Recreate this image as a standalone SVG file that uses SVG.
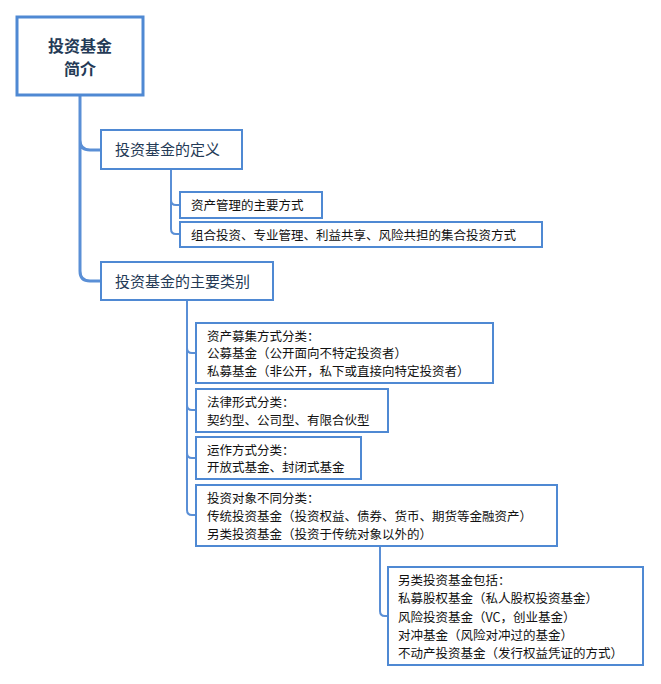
<svg xmlns="http://www.w3.org/2000/svg" width="661" height="684" viewBox="0 0 661 684">
<style>
.b{fill:#fff;stroke:#4f89d3;stroke-width:2}
.c{fill:none;stroke:#5a8fd6;stroke-width:3}
.c2{fill:none;stroke:#5a8fd6;stroke-width:2}
text{font-family:"Noto Sans CJK SC","Liberation Sans",sans-serif}
.t1{font-size:15px;fill:#243a56}
.t2{font-size:12.5px;fill:#111}
</style>
<rect width="661" height="684" fill="#fff"/>
<g id="connectors">
<path class="c" d="M80 95 V140 Q80 150 90 150 H101 M80 140 V271 Q80 281 90 281 H101"/>
<path class="c2" d="M171 169 V200 Q171 205 176 205 H180 M171 200 V229 Q171 234 176 234 H180"/>
<path class="c2" d="M187 300 V348 Q187 353 192 353 H196 M187 348 V405 Q187 410 192 410 H196 M187 405 V453 Q187 458 192 458 H196 M187 453 V510 Q187 515 192 515 H196"/>
<path class="c2" d="M380 546 V611 Q380 616 385 616 H388"/>
</g>
<g id="root"><rect x="17" y="17" width="126" height="78" fill="#fff" stroke="#4f89d3" stroke-width="3"/>
<text x="80" y="52" text-anchor="middle" font-size="16" font-weight="bold" fill="#243a56">投资基金</text>
<text x="80" y="75" text-anchor="middle" font-size="16" font-weight="bold" fill="#243a56">简介</text></g>
<g id="n1"><rect class="b" x="101" y="130" width="141" height="39"/><text class="t1" x="115" y="155">投资基金的定义</text></g>
<g id="n2"><rect class="b" x="101" y="262" width="172" height="38"/><text class="t1" x="115" y="287">投资基金的主要类别</text></g>
<g id="n11"><rect class="b" x="180" y="192" width="142" height="26"/><text class="t2" x="191" y="210">资产管理的主要方式</text></g>
<g id="n12"><rect class="b" x="180" y="222" width="362" height="25"/><text class="t2" x="191" y="240">组合投资、专业管理、利益共享、风险共担的集合投资方式</text></g>
<g id="n21"><rect class="b" x="196" y="323" width="297" height="60"/><text class="t2" x="207" y="341">资产募集方式分类：</text><text class="t2" x="207" y="358">公募基金（公开面向不特定投资者）</text><text class="t2" x="207" y="376">私募基金（非公开，私下或直接向特定投资者）</text></g>
<g id="n22"><rect class="b" x="196" y="389" width="192" height="43"/><text class="t2" x="207" y="407">法律形式分类：</text><text class="t2" x="207" y="425">契约型、公司型、有限合伙型</text></g>
<g id="n23"><rect class="b" x="196" y="437" width="165" height="42"/><text class="t2" x="207" y="455">运作方式分类：</text><text class="t2" x="207" y="472">开放式基金、封闭式基金</text></g>
<g id="n24"><rect class="b" x="196" y="485" width="361" height="61"/><text class="t2" x="207" y="503">投资对象不同分类：</text><text class="t2" x="207" y="521">传统投资基金（投资权益、债券、货币、期货等金融资产）</text><text class="t2" x="207" y="539">另类投资基金（投资于传统对象以外的）</text></g>
<g id="n241"><rect class="b" x="388" y="567" width="255" height="98"/><text class="t2" x="398" y="585">另类投资基金包括：</text><text class="t2" x="398" y="603">私募股权基金（私人股权投资基金）</text><text class="t2" x="398" y="622">风险投资基金（VC，创业基金）</text><text class="t2" x="398" y="640">对冲基金（风险对冲过的基金）</text><text class="t2" x="398" y="658">不动产投资基金（发行权益凭证的方式）</text></g>
</svg>
